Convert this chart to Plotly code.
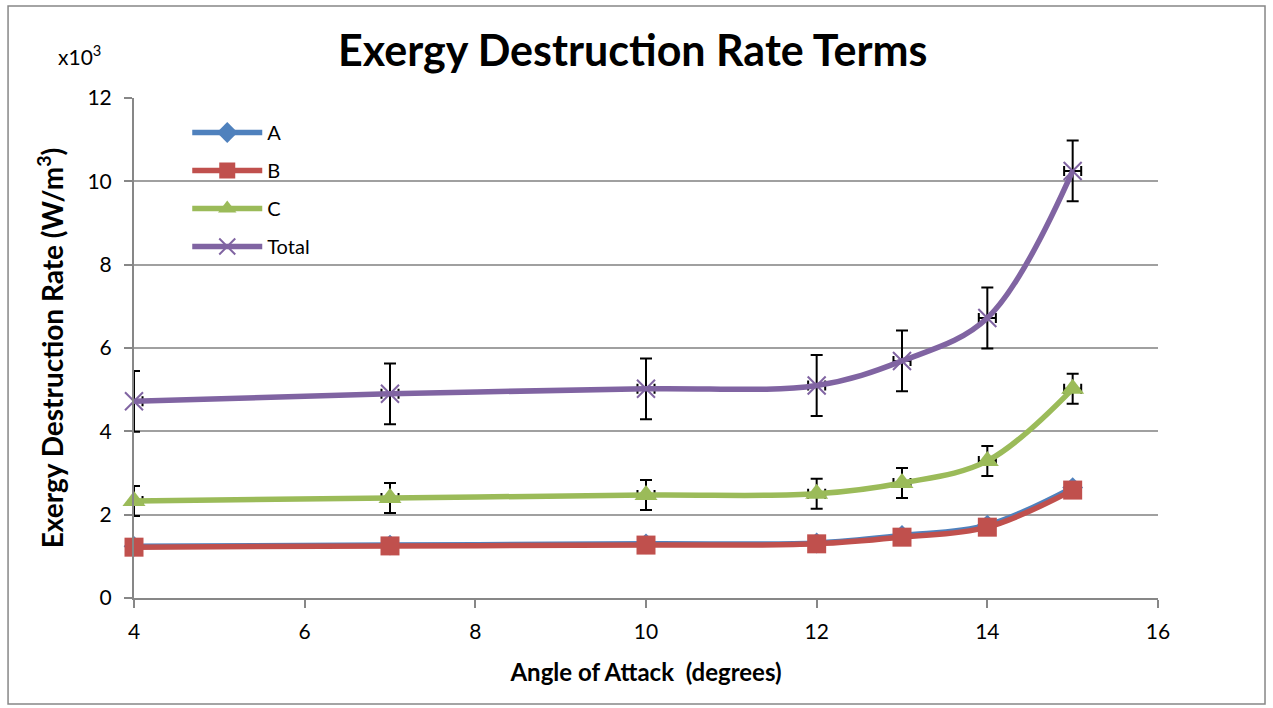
import plotly.graph_objects as go

# Angle of attack (degrees)
angles = [4, 7, 10, 12, 13, 14, 15]

# Exergy destruction rate terms (x10^3 W/m^3)
term_a = [1.24, 1.27, 1.30, 1.32, 1.50, 1.75, 2.65]
term_b = [1.22, 1.25, 1.27, 1.30, 1.46, 1.70, 2.59]
term_c = [2.33, 2.40, 2.47, 2.50, 2.76, 3.29, 5.02]
total = [4.72, 4.90, 5.02, 5.10, 5.69, 6.72, 10.25]

# Uncertainty on C and Total
err_c = 0.36
err_total = 0.73
err_angle = 0.1

y_ticks = [0, 2, 4, 6, 8, 10, 12]
x_ticks = [4, 6, 8, 10, 12, 14, 16]

FONT = "Lato"
colors = {"A": "#4F81BD", "B": "#C0504D", "C": "#9BBB59", "Total": "#8064A2"}

fig = go.Figure()

fig.add_trace(go.Scatter(
    x=angles, y=term_a, name="A", mode="lines+markers", legendgroup="a", cliponaxis=False,
    line=dict(color=colors["A"], width=5.5, shape="spline", smoothing=1.0),
    marker=dict(symbol="diamond", size=16, color=colors["A"]),
))
fig.add_trace(go.Scatter(
    x=angles, y=term_b, name="B", mode="lines+markers", legendgroup="b", cliponaxis=False,
    line=dict(color=colors["B"], width=5.5, shape="spline", smoothing=1.0),
    marker=dict(symbol="square", size=19, color=colors["B"]),
))
fig.add_trace(go.Scatter(
    x=angles, y=term_c, name="C", mode="lines+markers", legendgroup="c", cliponaxis=False,
    line=dict(color=colors["C"], width=5.5, shape="spline", smoothing=1.0),
    marker=dict(symbol="triangle-up", size=20, color=colors["C"]),
    error_y=dict(type="constant", value=err_c, color="black", thickness=2, width=6),
    error_x=dict(type="constant", value=err_angle, color="black", thickness=2, width=5),
))
fig.add_trace(go.Scatter(
    x=angles, y=total, name="Total", mode="lines+markers", legendgroup="t", cliponaxis=False,
    line=dict(color=colors["Total"], width=5.5, shape="spline", smoothing=1.0),
    marker=dict(symbol="x-thin", size=18, color=colors["Total"],
                line=dict(color=colors["Total"], width=2)),
    error_y=dict(type="constant", value=err_total, color="black", thickness=2, width=6),
    error_x=dict(type="constant", value=err_angle, color="black", thickness=2, width=5),
))

fig.update_layout(
    width=1273, height=708,
    margin=dict(l=134, r=115, t=98, b=110),
    paper_bgcolor="white", plot_bgcolor="white",
    font=dict(family=FONT, size=21, color="black"),
    title=dict(text="<b>Exergy Destruction Rate Terms</b>", x=0.497, xanchor="center",
               y=0.928, yanchor="middle", font=dict(size=43, family=FONT)),
    showlegend=True,
    legend=dict(x=0.052, y=0.97, xanchor="left", yanchor="top",
                bgcolor="rgba(0,0,0,0)", font=dict(size=20, family=FONT),
                traceorder="grouped", tracegroupgap=9, itemwidth=70),
    xaxis=dict(range=[4, 16], tickvals=x_ticks, showgrid=False, zeroline=False,
               showline=True, linecolor="#878787", linewidth=2,
               ticks="outside", ticklen=8, tickcolor="#878787", tickwidth=2,
               tickfont=dict(size=21), ticklabelstandoff=6, mirror=False,
               title=dict(text="<b>Angle of Attack  (degrees)</b>", font=dict(size=24), standoff=22)),
    yaxis=dict(range=[0, 12], tickvals=y_ticks, showgrid=True, gridcolor="#a0a0a0", gridwidth=2,
               zeroline=False, showline=True, linecolor="#878787", linewidth=2,
               ticks="outside", ticklen=8, tickcolor="#878787", tickwidth=2,
               tickfont=dict(size=21), ticklabelstandoff=8,
               title=dict(text="<b>Exergy Destruction Rate (W/m<sup>3</sup>)</b>",
                          font=dict(size=28), standoff=16)),
)

# Multiplier label above the y axis
fig.add_annotation(text="x10<sup>3</sup>", xref="paper", yref="paper",
                   x=-0.030, y=1.086, xanchor="right", yanchor="middle",
                   showarrow=False, font=dict(size=21, family=FONT))

# Chart frame
fig.add_shape(type="rect", xref="paper", yref="paper",
              x0=-0.123, x1=1.1045, y0=-0.212, y1=1.184,
              line=dict(color="#878787", width=1.5), fillcolor="rgba(0,0,0,0)", layer="below")

fig.write_html("out.html")
